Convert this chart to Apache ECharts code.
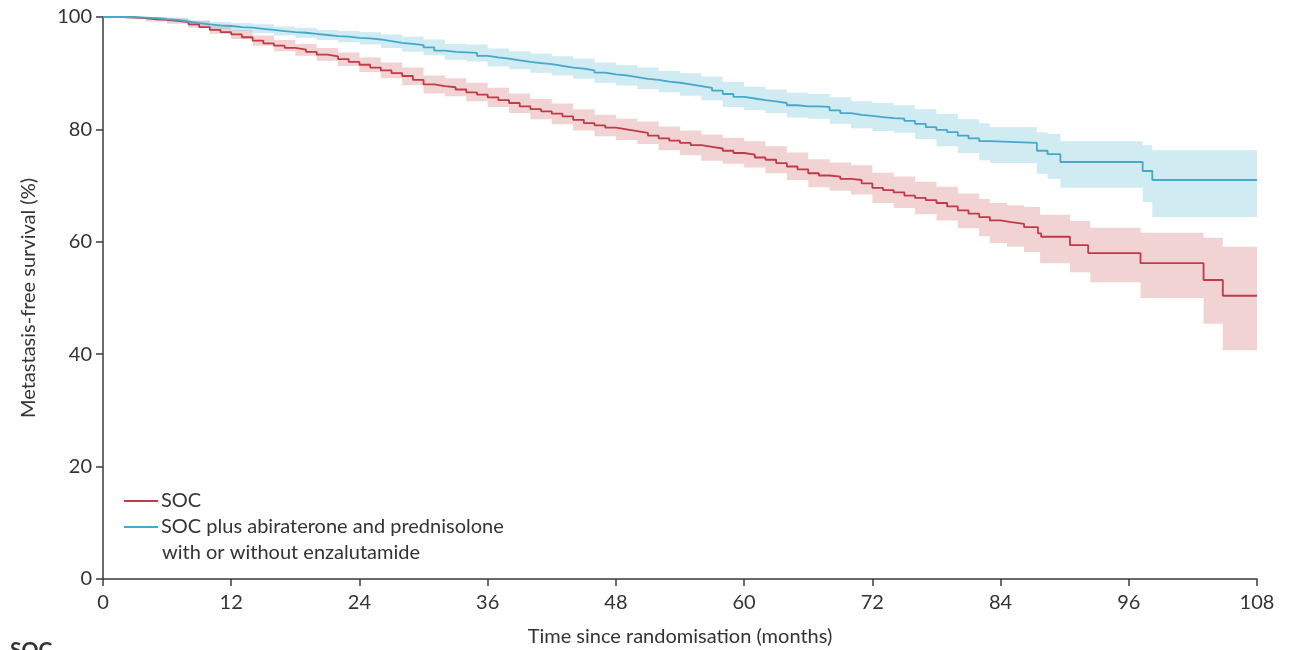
<!DOCTYPE html>
<html>
<head>
<meta charset="utf-8">
<script src="https://cdn.jsdelivr.net/npm/echarts@6/dist/echarts.min.js"></script>
<style>
  html, body { margin: 0; padding: 0; background: #fff; }
  #main { width: 1302px; height: 650px; }
</style>
</head>
<body>
<div id="main"></div>
<script>
// Kaplan-Meier curves (months, %)
var xTicks = [0, 12, 24, 36, 48, 60, 72, 84, 96, 108];
var yTicks = [0, 20, 40, 60, 80, 100];

var socMonths = [0, 1, 2, 3, 4, 5, 6, 7, 8, 9, 10, 11, 12, 13, 14, 15, 16, 17, 18, 19, 20, 21, 22, 23, 24, 25, 26, 27, 28, 29, 30, 31, 32, 33, 34, 35, 36, 37, 38, 39, 40, 41, 42, 43, 44, 45, 46, 47, 48, 49, 50, 51, 52, 53, 54, 55, 56, 57, 58, 59, 60, 61, 62, 63, 64, 65, 66, 67, 68, 69, 70, 71, 72, 73, 74, 75, 76, 77, 78, 79, 80, 81, 82, 83, 84, 85, 86.2, 87.5, 87.8, 90.5, 92.2, 97.1, 103.0, 104.8, 108];
var socValues = [100, 100, 99.9, 99.8, 99.6, 99.5, 99.3, 99.1, 98.7, 98.2, 97.7, 97.3, 96.9, 96.4, 95.8, 95.3, 94.9, 94.5, 94.2, 93.8, 93.3, 93.0, 92.5, 92.0, 91.5, 91.0, 90.5, 90.0, 89.5, 88.8, 88.0, 87.7, 87.5, 87.1, 86.6, 86.2, 85.7, 85.2, 84.7, 84.1, 83.6, 83.2, 82.8, 82.3, 81.7, 81.1, 80.7, 80.3, 80.0, 79.7, 79.4, 78.9, 78.4, 78.0, 77.6, 77.2, 76.9, 76.6, 76.2, 75.8, 75.5, 75.0, 74.6, 74.0, 73.4, 72.9, 72.2, 71.8, 71.6, 71.2, 71.0, 70.4, 69.6, 69.2, 68.8, 68.2, 67.8, 67.4, 66.9, 66.3, 65.6, 65.0, 64.4, 63.8, 63.5, 63.2, 62.6, 61.5, 60.9, 59.4, 58.0, 56.2, 53.2, 50.4, 50.4];

var abiMonths = [0, 1, 2, 3, 4, 5, 6, 7, 8, 9, 10, 11, 12, 13, 14, 15, 16, 17, 18, 19, 20, 21, 22, 23, 24, 25, 26, 27, 28, 29, 30, 31, 32, 33, 34, 35, 36, 37, 38, 39, 40, 41, 42, 43, 44, 45, 46, 47, 48, 49, 50, 51, 52, 53, 54, 55, 56, 57, 58, 59, 60, 61, 62, 63, 64, 65, 66, 67, 68, 69, 70, 71, 72, 73, 74, 75, 76, 77, 78, 79, 80, 81, 82, 83, 87.4, 88.4, 89.6, 97.3, 98.2, 108];
var abiValues = [100, 100, 100, 99.9, 99.8, 99.6, 99.5, 99.2, 98.9, 98.7, 98.5, 98.4, 98.2, 98.1, 97.9, 97.7, 97.5, 97.3, 97.2, 97.0, 96.8, 96.6, 96.5, 96.3, 96.2, 96.0, 95.7, 95.4, 95.2, 95.0, 94.6, 94.0, 93.8, 93.7, 93.6, 93.1, 92.8, 92.6, 92.3, 92.0, 91.8, 91.6, 91.3, 91.0, 90.8, 90.5, 90.1, 89.8, 89.6, 89.3, 89.0, 88.8, 88.5, 88.3, 88.0, 87.7, 87.4, 86.9, 86.3, 85.8, 85.5, 85.2, 85.0, 84.7, 84.3, 84.1, 84.1, 84.0, 83.4, 82.9, 82.6, 82.4, 82.2, 82.0, 81.9, 81.5, 81.0, 80.4, 79.9, 79.5, 78.9, 78.4, 77.9, 77.6, 76.2, 75.6, 74.2, 72.6, 71.0, 71.0];

// 95% CI bands
var socBandMonths = [0, 2, 4, 6, 8, 10, 12, 14, 16, 18, 20, 22, 24, 26, 28, 30, 32, 34, 36, 38, 40, 42, 44, 46, 48, 50, 52, 54, 56, 58, 60, 62, 64, 66, 68, 70, 72, 74, 76, 78, 80, 82, 83, 84.6, 86.2, 87.7, 90.5, 92.4, 97.1, 103.0, 104.8, 108];
var socLower = [100, 99.7, 99.2, 98.8, 98.1, 97.0, 96.1, 94.9, 93.9, 93.1, 92.2, 91.3, 90.2, 89.1, 87.9, 86.4, 85.9, 85.0, 84.0, 82.9, 81.8, 80.9, 79.8, 78.8, 78.1, 77.4, 76.3, 75.4, 74.4, 73.9, 73.2, 72.2, 71.0, 69.7, 69.1, 68.4, 66.9, 66.0, 64.9, 63.8, 62.4, 61.0, 59.8, 59.1, 58.2, 56.2, 54.6, 52.8, 50.0, 45.4, 40.7, 40.7];
var socUpper = [100, 100, 99.9, 99.7, 99.3, 98.4, 97.7, 96.7, 95.9, 95.2, 94.5, 93.7, 92.8, 91.9, 91.0, 89.6, 89.1, 88.3, 87.4, 86.4, 85.4, 84.6, 83.6, 82.6, 81.9, 81.4, 80.5, 79.8, 79.1, 78.5, 77.9, 77.0, 75.9, 74.7, 74.1, 73.6, 72.3, 71.6, 70.7, 69.8, 68.6, 67.6, 66.9, 66.5, 66.2, 64.8, 63.7, 62.5, 61.6, 60.7, 59.1, 59.1];

var abiBandMonths = [0, 2, 4, 6, 8, 10, 12, 14, 16, 18, 20, 22, 24, 26, 28, 30, 32, 34, 36, 38, 40, 42, 44, 46, 48, 50, 52, 54, 56, 58, 60, 62, 64, 66, 68, 70, 72, 74, 76, 78, 80, 82, 83, 87.4, 88.4, 89.6, 97.3, 98.2, 108];
var abiLower = [100, 99.9, 99.5, 99.1, 98.4, 97.8, 97.5, 97.1, 96.7, 96.3, 95.9, 95.5, 95.1, 94.5, 93.8, 93.2, 92.4, 92.1, 91.2, 90.7, 90.1, 89.6, 89.0, 88.3, 87.8, 87.2, 86.6, 86.0, 85.2, 84.0, 83.4, 82.9, 82.1, 81.9, 81.0, 80.2, 79.7, 79.4, 78.3, 77.0, 75.8, 74.5, 74.0, 72.1, 71.2, 69.6, 67.1, 64.4, 64.4];
var abiUpper = [100, 100, 100, 99.9, 99.4, 99.1, 98.9, 98.7, 98.3, 98.1, 97.7, 97.5, 97.3, 96.9, 96.5, 96.0, 95.2, 95.1, 94.4, 93.9, 93.5, 93.0, 92.6, 91.9, 91.4, 91.0, 90.4, 90.0, 89.4, 88.5, 87.6, 87.1, 86.5, 86.3, 85.7, 85.0, 84.7, 84.3, 83.6, 82.8, 81.8, 81.1, 80.4, 79.5, 79.2, 77.9, 77.2, 76.3, 76.3];

var socName = 'SOC';
var abiName = 'SOC plus abiraterone and prednisolone';

function pairs(xs, ys) {
  var out = [];
  for (var i = 0; i < xs.length; i++) out.push([xs[i], ys[i]]);
  return out;
}

// step shaped CI band as one polygon, through the axes' scales
function bandSeries(months, lo, hi, color) {
  return {
    type: 'custom',
    silent: true,
    z: 1,
    data: pairs(months, hi),
    renderItem: function (params, api) {
      if (params.dataIndex !== 0) return null;
      var pts = [];
      var i;
      for (i = 0; i < months.length; i++) {
        pts.push(api.coord([months[i], hi[i]]));
        if (i < months.length - 1) pts.push(api.coord([months[i + 1], hi[i]]));
      }
      for (i = months.length - 1; i >= 0; i--) {
        if (i < months.length - 1) pts.push(api.coord([months[i + 1], lo[i]]));
        pts.push(api.coord([months[i], lo[i]]));
      }
      return { type: 'polygon', shape: { points: pts }, style: { fill: color } };
    }
  };
}

var font = 'Lato, "Open Sans", sans-serif';
var axisColor = '#3a3a3a';

var myChart = echarts.init(document.getElementById('main'));
var option = {
  animation: false,
  backgroundColor: '#fff',
  grid: { left: 103, right: 45, top: 17, bottom: 71, containLabel: false, outerBoundsMode: 'none' },
  xAxis: {
    type: 'value',
    min: 0, max: 108, interval: 12,
    name: 'Time since randomisation (months)',
    nameLocation: 'middle',
    nameGap: 48,
    nameTextStyle: { fontFamily: font, fontSize: 20, color: '#333' },
    axisLine: { lineStyle: { color: axisColor, width: 1.5 } },
    axisTick: { length: 7, lineStyle: { color: axisColor, width: 1.5 } },
    axisLabel: {
      margin: 14, fontFamily: font, fontSize: 20, color: '#333',
      formatter: function (v) { return xTicks.indexOf(v) >= 0 ? String(v) : ''; }
    },
    splitLine: { show: false }
  },
  yAxis: {
    type: 'value',
    min: 0, max: 100, interval: 20,
    name: 'Metastasis-free survival (%)',
    nameLocation: 'middle',
    nameGap: 64,
    nameTextStyle: { fontFamily: font, fontSize: 20, color: '#333' },
    axisLine: { show: true, lineStyle: { color: axisColor, width: 1.5 } },
    axisTick: { show: true, length: 7, lineStyle: { color: axisColor, width: 1.5 } },
    axisLabel: {
      margin: 11, fontFamily: font, fontSize: 20, color: '#333',
      formatter: function (v) { return yTicks.indexOf(v) >= 0 ? String(v) : ''; }
    },
    splitLine: { show: false }
  },
  legend: {
    orient: 'vertical',
    left: 119, top: 486,
    itemWidth: 34, itemHeight: 2, itemGap: 6,
    icon: 'rect',
    data: [socName, abiName],
    textStyle: { fontFamily: font, fontSize: 20, color: '#333', padding: [0, 0, 0, -2] },
    selectedMode: false
  },
  graphic: [
    {
      type: 'text', left: 162, top: 543,
      style: { text: 'with or without enzalutamide', font: '20px ' + font, fill: '#333' }
    },
    {
      type: 'text', left: 10, top: 640,
      style: { text: 'SOC', font: 'bold 21px ' + font, fill: '#333' }
    }
  ],
  series: [
    bandSeries(socBandMonths, socLower, socUpper, 'rgba(212,129,126,0.35)'),
    bandSeries(abiBandMonths, abiLower, abiUpper, 'rgba(121,198,218,0.35)'),
    {
      name: socName, type: 'line', step: 'end', showSymbol: false, z: 3,
      data: pairs(socMonths, socValues),
      itemStyle: { color: '#c13a48' },
      lineStyle: { color: '#c13a48', width: 1.8 }
    },
    {
      name: abiName, type: 'line', step: 'end', showSymbol: false, z: 4,
      data: pairs(abiMonths, abiValues),
      itemStyle: { color: '#45a9cb' },
      lineStyle: { color: '#45a9cb', width: 1.8 }
    }
  ]
};
myChart.setOption(option);
</script>
</body>
</html>
